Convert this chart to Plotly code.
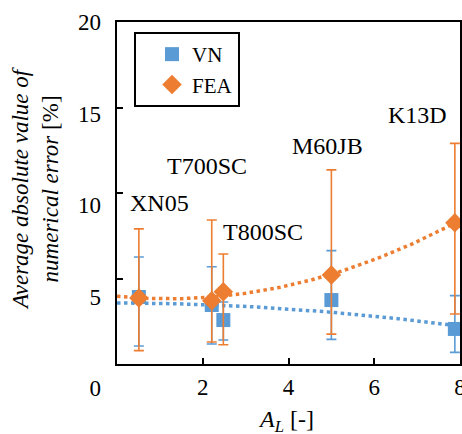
import numpy as np
import plotly.graph_objects as go

# ---- data ----
fibers = ["XN05", "T700SC", "T800SC", "M60JB", "K13D"]
a_l = [0.51, 2.21, 2.48, 5.0, 7.88]

vn = [3.92, 3.45, 2.57, 3.74, 2.05]
vn_plus = [2.34, 2.24, 1.06, 2.89, 1.95]
vn_minus = [2.87, 2.28, 1.17, 2.30, 1.37]

fea = [3.86, 3.70, 4.23, 5.20, 8.26]
fea_plus = [4.04, 4.72, 2.20, 6.15, 4.64]
fea_minus = [3.08, 2.41, 3.10, 3.45, 5.34]

y_ticks = [0, 5, 10, 15, 20]
x_ticks = [2, 4, 6, 8]

# label placement (layout, data coordinates)
label_x = [1.0, 2.11, 3.41, 4.91, 7.0]
label_y = [9.39, 11.55, 7.72, 12.75, 14.59]

BLUE = "#5B9BD5"
ORANGE = "#ED7D31"
FONT = "Liberation Serif, Times New Roman, serif"

# second-order polynomial trendlines fitted to each series
xt = np.linspace(0, 8, 161)
vn_fit = np.polyval(np.polyfit(a_l, vn, 2), xt)
fea_fit = np.polyval(np.polyfit(a_l, fea, 2), xt)

fig = go.Figure()
fig.add_trace(go.Scatter(x=xt, y=vn_fit, mode="lines", showlegend=False,
                         line=dict(color=BLUE, width=3.5, dash="3.5px,3.5px")))
fig.add_trace(go.Scatter(x=xt, y=fea_fit, mode="lines", showlegend=False,
                         line=dict(color=ORANGE, width=3.5, dash="3.5px,3.5px")))
fig.add_trace(go.Scatter(
    x=a_l, y=vn, mode="markers", name="VN",
    marker=dict(symbol="square", size=14, color=BLUE),
    error_y=dict(type="data", symmetric=False, array=vn_plus, arrayminus=vn_minus,
                 color=BLUE, thickness=1.6, width=5)))
fig.add_trace(go.Scatter(
    x=a_l, y=fea, mode="markers", name="FEA",
    marker=dict(symbol="diamond", size=15, color=ORANGE),
    error_y=dict(type="data", symmetric=False, array=fea_plus, arrayminus=fea_minus,
                 color=ORANGE, thickness=1.6, width=5)))
# empty trace to register the label-only axis
fig.add_trace(go.Scatter(x=[], y=[], yaxis="y2", showlegend=False, hoverinfo="skip"))

for name, lx, ly in zip(fibers, label_x, label_y):
    fig.add_annotation(x=lx, y=ly, text=name, showarrow=False,
                       xanchor="center", yanchor="middle",
                       font=dict(family=FONT, size=24, color="black"))

fig.add_annotation(xref="paper", yref="paper", x=0.4927, y=-0.089,
                   text="<i>A<sub>L</sub></i> [-]", showarrow=False,
                   xanchor="center", yanchor="middle",
                   font=dict(family=FONT, size=24, color="black"))
fig.add_annotation(xref="paper", yref="paper", x=-0.239, y=0.5464,
                   text="<i>Average absolute value of<br>numerical error</i> [%]",
                   textangle=-90, showarrow=False,
                   xanchor="center", yanchor="middle",
                   font=dict(family=FONT, size=23, color="black"))

fig.update_layout(
    template="none",
    width=462, height=434,
    margin=dict(l=117, r=2, t=22, b=46),
    paper_bgcolor="white", plot_bgcolor="rgba(0,0,0,0)",
    font=dict(family=FONT, size=23, color="black"),
    showlegend=True,
    legend=dict(x=0.0496, y=0.9727, xanchor="left", yanchor="top",
                bordercolor="black", borderwidth=2, bgcolor="white",
                font=dict(family=FONT, size=21, color="black"),
                indentation=16, tracegroupgap=0),
    xaxis=dict(range=[0, 8], tickvals=x_ticks, ticks="inside", ticklen=6,
               tickwidth=2, tickcolor="black", showline=True, linecolor="black",
               linewidth=2, mirror=True, showgrid=False, zeroline=False,
               anchor="y", automargin=False, ticklabelstandoff=1,
               ticklabeloverflow="allow",
               tickfont=dict(family=FONT, size=23, color="black")),
    yaxis=dict(range=[0, 20], domain=[24 / 366, 1], tickvals=y_ticks,
               ticks="inside", ticklen=6, tickwidth=2, tickcolor="black",
               showticklabels=False, showline=True, linecolor="black",
               linewidth=2, mirror=True, showgrid=False, zeroline=False,
               automargin=False),
    yaxis2=dict(range=[0, 20], domain=[0, 1], tickvals=y_ticks, anchor="free",
                position=0, side="left", showline=False, ticks="",
                showgrid=False, zeroline=False, automargin=False,
                ticklabelstandoff=16, ticklabeloverflow="allow",
                tickfont=dict(family=FONT, size=23, color="black")),
)

fig.write_html("out.html")
